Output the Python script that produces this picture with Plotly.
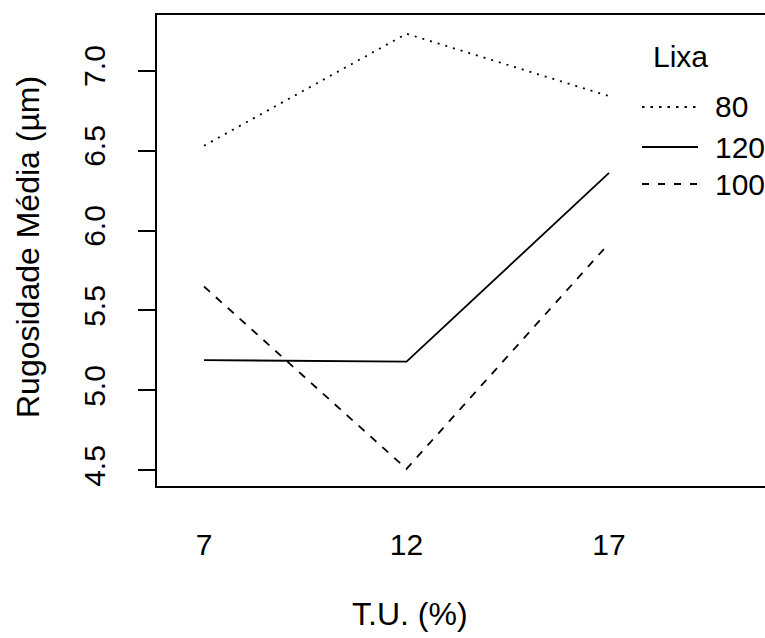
import plotly.graph_objects as go

# ---- data ----
tu_levels = ["7", "12", "17"]
lixa_names = ["80", "120", "100"]
rug_80 = [6.53, 7.23, 6.84]
rug_120 = [5.19, 5.18, 6.36]
rug_100 = [5.65, 4.51, 5.92]
y_ticks = [4.5, 5.0, 5.5, 6.0, 6.5, 7.0]
y_ticktext = ["4.5", "5.0", "5.5", "6.0", "6.5", "7.0"]

W, H = 765, 638
L, T, B, R = 157, 15, 152, 0
PW, PH = W - L - R, H - T - B
FONT = "Liberation Sans, Arial, sans-serif"
FS = 30
FS_LEG = 30
FS_TITLE = 32

series = [rug_80, rug_120, rug_100]
dashes = ["2px,6px", "solid", "8px,8px"]

fig = go.Figure()
for name, vals, d in zip(lixa_names, series, dashes):
    fig.add_trace(go.Scatter(x=tu_levels, y=vals, mode="lines", name=name,
                             line=dict(color="black", width=1.8, dash=d),
                             showlegend=False))

def px_x(px):
    return (px - L) / PW

def px_y(py):
    return (H - B - py) / PH

annotations = []
shapes = []
# legend (drawn manually, as in R's interaction.plot)
annotations.append(dict(text="Lixa", x=px_x(651), y=px_y(57), xref="paper", yref="paper",
                        xanchor="left", yanchor="middle", showarrow=False,
                        font=dict(family=FONT, size=FS_LEG, color="black")))
leg_y = [107, 147, 184]
leg_dash = ["2.5px,6px", "solid", "7px,9px"]
for name, ly, d in zip(lixa_names, leg_y, leg_dash):
    shapes.append(dict(type="line", xref="paper", yref="paper",
                       x0=px_x(642), x1=px_x(698), y0=px_y(ly), y1=px_y(ly),
                       line=dict(color="black", width=1.8, dash=d)))
    annotations.append(dict(text=name, x=px_x(713), y=px_y(ly), xref="paper", yref="paper",
                            xanchor="left", yanchor="middle", showarrow=False,
                            font=dict(family=FONT, size=FS_LEG, color="black")))
# axis titles
annotations.append(dict(text="T.U. (%)", x=px_x(410), y=px_y(614), xref="paper", yref="paper",
                        xanchor="center", yanchor="middle", showarrow=False,
                        font=dict(family=FONT, size=FS_TITLE, color="black")))
annotations.append(dict(text="Rugosidade Média (µm)", x=px_x(28), y=px_y(247), xref="paper",
                        yref="paper", xanchor="center", yanchor="middle", textangle=-90,
                        showarrow=False, font=dict(family=FONT, size=FS_TITLE, color="black")))

fig.update_layout(
    width=W, height=H,
    margin=dict(l=L, r=R, t=T, b=B, pad=0),
    paper_bgcolor="white", plot_bgcolor="white",
    font=dict(family=FONT, size=FS, color="black"),
    annotations=annotations, shapes=shapes,
    xaxis=dict(type="category", range=[-0.232, 2.77], showgrid=False, zeroline=False,
               showline=True, linecolor="black", linewidth=2, mirror=True,
               ticks="", ticklabelstandoff=31,
               tickfont=dict(family=FONT, size=FS, color="black")),
    yaxis=dict(range=[4.403, 7.347], showgrid=False, zeroline=False,
               showline=True, linecolor="black", linewidth=2, mirror=False,
               ticks="outside", ticklen=17, tickwidth=2, tickcolor="black",
               tickvals=y_ticks, ticktext=y_ticktext, tickangle=-90,
               ticklabelstandoff=21,
               tickfont=dict(family=FONT, size=FS, color="black")),
)

fig.write_html("out.html")
